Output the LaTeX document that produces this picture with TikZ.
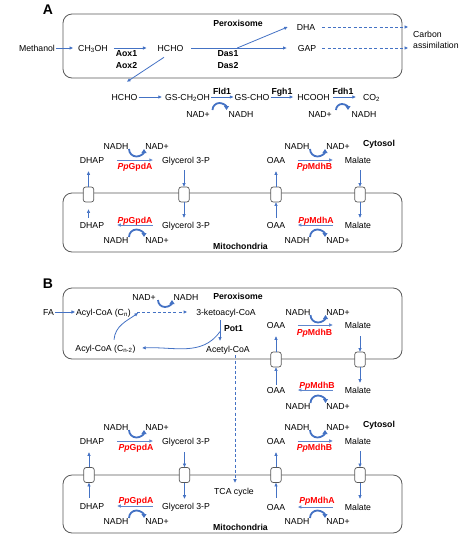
\documentclass[tikz,border=0pt]{standalone}
\usepackage{fontspec}
\setmainfont{Liberation Sans}
\usetikzlibrary{positioning, arrows.meta, calc}

\definecolor{flowblue}{RGB}{68,114,196}
\definecolor{boxgray}{RGB}{89,89,89}
\definecolor{enzred}{RGB}{255,0,0}

\begin{document}
\begin{tikzpicture}[
    x=1pt, y=1pt,
    >={Triangle[length=3.5pt, width=3pt]},
    lbl/.style={inner sep=1pt, font=\fontsize{8.7}{10.4}\selectfont},
    txt/.style={lbl, text height=6.2pt, text depth=0pt},
    enz/.style={txt, font=\fontsize{8.7}{10.4}\selectfont\bfseries},
    enzpair/.style={lbl, align=center, font=\fontsize{8.7}{12}\selectfont\bfseries},
    ppenz/.style={enz, text=enzred},
    site/.style={enz},
    panel/.style={inner sep=0pt, font=\fontsize{14}{16}\selectfont\bfseries},
    organelle/.style={draw=boxgray, line width=0.8pt, rounded corners=9pt},
    carrier/.style={draw=boxgray, line width=0.7pt, fill=white, rounded corners=2.5pt,
        minimum width=10.5pt, minimum height=15pt, inner sep=0pt},
    rxn/.style={->, draw=flowblue, line width=0.8pt},
    drxn/.style={rxn, line width=0.9pt, dash pattern=on 3pt off 2.2pt},
    shuttle/.style={->, draw=flowblue!85, line width=1pt},
    tport/.style={->, draw=flowblue, line width=0.6pt},
    cofac/.style={-{Triangle[length=4pt, width=5pt]}, draw=flowblue, line width=1.8pt},
]
\useasboundingbox (0,0) rectangle (471,-550);

% ============ COMPARTMENTS ============
\draw[organelle] (63,-14)  rectangle (402,-78);   % peroxisome A
\draw[organelle] (63,-193) rectangle (402,-252);  % mitochondria A
\draw[organelle] (63,-288) rectangle (402,-359);  % peroxisome B
\draw[organelle] (63,-475) rectangle (402,-533);  % mitochondria B

% ============ PANEL A : NODES ============
\node[panel] (labA) at (48,-10) {A};
\node[site]  (perA) at (238,-23) {Peroxisome};

% methanol utilisation (peroxisome)
\node[txt] (meoh)  at (37,-48)    {Methanol};
\node[txt] (ch3oh) at (93,-48)    {CH\textsubscript{3}OH};
\node[txt] (hchoA) at (170.5,-48) {HCHO};
\node[txt] (dha)   at (306,-27)   {DHA};
\node[txt] (gap)   at (307,-48)   {GAP};
\node[lbl, align=left, anchor=west, font=\fontsize{8.7}{11}\selectfont] (carbon) at (412,-39.5) {Carbon\\assimilation};
\node[enzpair] (aox) at (126.5,-60) {Aox1\\Aox2};
\node[enzpair] (das) at (228,-60)   {Das1\\Das2};

% dissimilation (cytosol)
\node[txt] (hchoB)   at (124.5,-97) {HCHO};
\node[txt] (gsch2oh) at (187.5,-97) {GS-CH\textsubscript{2}OH};
\node[txt] (gscho)   at (252,-97)   {GS-CHO};
\node[txt] (hcooh)   at (313.5,-97) {HCOOH};
\node[txt] (co2)     at (371.5,-97) {CO\textsubscript{2}};
\node[enz] (fld1) at (222,-91) {Fld1};
\node[enz] (fgh1) at (282,-91) {Fgh1};
\node[enz] (fdh1) at (343,-91) {Fdh1};
\node[txt] (nadA1)  at (198,-114) {NAD+};
\node[txt] (nadhA1) at (241,-114) {NADH};
\node[txt] (nadA2)  at (320,-114) {NAD+};
\node[txt] (nadhA2) at (364,-114) {NADH};

% shuttles, cytosolic side
\node[txt]   (nadhA3) at (116,-146) {NADH};
\node[txt]   (nadA3)  at (157,-146) {NAD+};
\node[txt]   (dhapA1) at (92,-160)  {DHAP};
\node[txt]   (g3pA1)  at (186,-160) {Glycerol 3-P};
\node[ppenz] (gpdA1)  at (135,-166) {\textit{Pp}GpdA};
\node[txt]   (nadhA5) at (297,-146) {NADH};
\node[txt]   (nadA5)  at (338,-146) {NAD+};
\node[txt]   (oaaA1)  at (276,-160) {OAA};
\node[txt]   (malA1)  at (358,-160) {Malate};
\node[ppenz] (mdhA1)  at (314.5,-166) {\textit{Pp}MdhB};
\node[site]  (cytA)   at (379,-143) {Cytosol};

% shuttles, mitochondrial side
\node[txt]   (dhapA2) at (92,-225)  {DHAP};
\node[txt]   (g3pA2)  at (186,-225) {Glycerol 3-P};
\node[ppenz] (gpdA2)  at (135,-220) {\textit{Pp}GpdA};
\node[txt]   (nadhA4) at (116,-240) {NADH};
\node[txt]   (nadA4)  at (157,-240) {NAD+};
\node[txt]   (oaaA2)  at (276,-225) {OAA};
\node[txt]   (malA2)  at (358,-225) {Malate};
\node[ppenz] (mdhA2)  at (316,-220) {\textit{Pp}MdhA};
\node[txt]   (nadhA6) at (297,-240) {NADH};
\node[txt]   (nadA6)  at (338,-240) {NAD+};
\node[site]  (mitA)   at (240.5,-246) {Mitochondria};

% ============ PANEL B : NODES ============
\node[panel] (labB) at (48,-284) {B};
\node[site]  (perB) at (238,-296) {Peroxisome};

% beta-oxidation
\node[txt] (fa)     at (48.5,-312)  {FA};
\node[txt] (acyl)   at (103.5,-312) {Acyl-CoA (C\textsubscript{n})};
\node[txt] (keto)   at (226,-312)   {3-ketoacyl-CoA};
\node[txt] (nadB1)  at (144,-297)   {NAD+};
\node[txt] (nadhB1) at (186,-297)   {NADH};
\node[enz] (pot1)   at (233.5,-328) {Pot1};
\node[txt] (acylm2) at (105.5,-348) {Acyl-CoA (C\textsubscript{n-2})};
\node[txt] (acetyl) at (228,-349)   {Acetyl-CoA};
\node[txt] (tca)    at (234,-491)   {TCA cycle};

% malate shuttle, peroxisome -> cytosol
\node[txt]   (nadhB2) at (298,-312) {NADH};
\node[txt]   (nadB2)  at (338,-312) {NAD+};
\node[txt]   (oaaB1)  at (276,-325) {OAA};
\node[txt]   (malB1)  at (358,-325) {Malate};
\node[ppenz] (mdhB1)  at (314.5,-332) {\textit{Pp}MdhB};
\node[txt]   (oaaB2)  at (276,-390) {OAA};
\node[txt]   (malB2)  at (358,-390) {Malate};
\node[ppenz] (mdhB2)  at (317,-385) {\textit{Pp}MdhB};
\node[txt]   (nadhB3) at (298,-406) {NADH};
\node[txt]   (nadB3)  at (338,-406) {NAD+};

% shuttles, cytosol -> mitochondria
\node[txt]   (nadhB4) at (297,-427) {NADH};
\node[txt]   (nadB4)  at (338,-427) {NAD+};
\node[site]  (cytB)   at (379,-424) {Cytosol};
\node[txt]   (oaaB3)  at (276,-441) {OAA};
\node[txt]   (malB3)  at (358,-441) {Malate};
\node[ppenz] (mdhB3)  at (314.5,-447) {\textit{Pp}MdhB};
\node[txt]   (oaaB4)  at (276,-507) {OAA};
\node[txt]   (malB4)  at (358,-507) {Malate};
\node[ppenz] (mdhB4)  at (317,-500) {\textit{Pp}MdhA};
\node[txt]   (nadhB5) at (297,-521) {NADH};
\node[txt]   (nadB5)  at (338,-521) {NAD+};
\node[site]  (mitB)   at (240.5,-527) {Mitochondria};

\node[txt]   (nadhB6) at (116,-427) {NADH};
\node[txt]   (nadB6)  at (157,-427) {NAD+};
\node[txt]   (dhapB1) at (92,-441)  {DHAP};
\node[txt]   (g3pB1)  at (186,-441) {Glycerol 3-P};
\node[ppenz] (gpdB1)  at (136,-447) {\textit{Pp}GpdA};
\node[txt]   (dhapB2) at (92,-506)  {DHAP};
\node[txt]   (g3pB2)  at (186,-506) {Glycerol 3-P};
\node[ppenz] (gpdB2)  at (136,-500) {\textit{Pp}GpdA};
\node[txt]   (nadhB7) at (116,-521) {NADH};
\node[txt]   (nadB7)  at (157,-521) {NAD+};

% ============ PANEL A : ARROWS ============
\draw[rxn] (meoh.east) -- ([xshift=-4pt]ch3oh.west);
\draw[rxn] ([xshift=5pt]ch3oh.east) -- ([xshift=-10pt]hchoA.west);
\draw[rxn] ([xshift=6.5pt]hchoA.east) -- ([xshift=-10pt]gap.west);
\draw[rxn] ($(hchoA.east)!0.47!(gap.west)$) -- ([xshift=-8pt]dha.west);
\draw[drxn] ([xshift=6pt]dha.east) -- ($(dha.east -| carbon.west)+(-4,0)$);
\draw[drxn] ([xshift=5pt]gap.east) -- ($(gap.east -| carbon.west)+(-4,0)$);

% HCHO leaves the peroxisome
\draw[rxn] ([shift={(-6.5,-5)}]hchoA.south) -- ([shift={(2.5,11)}]hchoB.north);
\draw[rxn, shorten >=2pt] (hchoB) -- (gsch2oh);
\draw[rxn] (gsch2oh) -- (gscho);
\draw[rxn, shorten >=3pt] (gscho) -- (hcooh);
\draw[rxn, shorten <=2pt, shorten >=6pt] (hcooh) -- (co2);

% cofactors
\draw[cofac] ($(nadA1)!0.5!(nadhA1)+(-7,4)$) arc[start angle=180, end angle=0, radius=7pt];
\draw[cofac] ($(nadA2)!0.5!(nadhA2)+(-6,4)$) arc[start angle=180, end angle=0, radius=6pt];
\draw[cofac] ($(nadhA3)!0.5!(nadA3)+(-7.5,-3)$) arc[start angle=180, end angle=360, radius=7.5pt];
\draw[cofac] ($(nadhA5)!0.5!(nadA5)+(-7.5,-3)$) arc[start angle=180, end angle=360, radius=7.5pt];
\draw[cofac] ($(nadhA4)!0.5!(nadA4)+(-7.5,3)$) arc[start angle=180, end angle=0, radius=7.5pt];
\draw[cofac] ($(nadhA6)!0.5!(nadA6)+(-7.5,3)$) arc[start angle=180, end angle=0, radius=7.5pt];

% shuttle reactions
\draw[shuttle, shorten <=12pt, shorten >=8pt] (dhapA1) -- (g3pA1);
\draw[shuttle, shorten <=8pt, shorten >=12pt] (g3pA2) -- (dhapA2);
\draw[shuttle, shorten <=11.5pt, shorten >=11pt] (oaaA1) -- (malA1);
\draw[shuttle, shorten <=11pt, shorten >=11.5pt] (malA2) -- (oaaA2);

% ============ PANEL B : ARROWS ============
\draw[rxn] (fa) -- (acyl);
\draw[drxn, shorten <=5pt, shorten >=8pt] (acyl) -- (keto);
\draw[cofac] ($(nadB1)!0.5!(nadhB1)+(-7,-3)$) arc[start angle=180, end angle=360, radius=7pt];

\coordinate (thioA) at ([shift={(-6,-4)}]keto.south);
\coordinate (thioB) at ([shift={(-8,4)}]acetyl.north);
\draw[rxn] (thioA) -- (thioB);
\draw[rxn] ($(thioA)!0.55!(thioB)$) to[out=-125, in=3] ([xshift=5.5pt]acylm2.east);
\draw[rxn] ([shift={(8.5,4)}]acylm2.north) to[out=85, in=-145] ([shift={(6,-1)}]acyl.east);
\draw[drxn] ([shift={(7,-2)}]acetyl.south) -- ([shift={(1,4)}]tca.north);

% cofactors
\draw[cofac] ($(nadhB2)!0.5!(nadB2)+(-7.5,-3)$) arc[start angle=180, end angle=360, radius=7.5pt];
\draw[cofac] ($(nadhB3)!0.5!(nadB3)+(-7.5,3)$) arc[start angle=180, end angle=0, radius=7.5pt];
\draw[cofac] ($(nadhB4)!0.5!(nadB4)+(-7.5,-3)$) arc[start angle=180, end angle=360, radius=7.5pt];
\draw[cofac] ($(nadhB5)!0.5!(nadB5)+(-7.5,3)$) arc[start angle=180, end angle=0, radius=7.5pt];
\draw[cofac] ($(nadhB6)!0.5!(nadB6)+(-7.5,-3)$) arc[start angle=180, end angle=360, radius=7.5pt];
\draw[cofac] ($(nadhB7)!0.5!(nadB7)+(-7.5,3)$) arc[start angle=180, end angle=0, radius=7.5pt];

% shuttle reactions
\draw[shuttle, shorten <=11.5pt, shorten >=11pt] (oaaB1) -- (malB1);
\draw[shuttle, shorten <=11pt, shorten >=11.5pt] (malB2) -- (oaaB2);
\draw[shuttle, shorten <=11.5pt, shorten >=11pt] (oaaB3) -- (malB3);
\draw[shuttle, shorten <=11pt, shorten >=11.5pt] (malB4) -- (oaaB4);
\draw[shuttle, shorten <=12pt, shorten >=8pt] (dhapB1) -- (g3pB1);
\draw[shuttle, shorten <=8pt, shorten >=12pt] (g3pB2) -- (dhapB2);

% ============ CARRIERS ============
\node[carrier] (cA1) at (88.5,-194.5) {};
\node[carrier] (cA2) at (184,-194.5)  {};
\node[carrier] (cA3) at (276,-194.5)  {};
\node[carrier] (cA4) at (360,-194.5)  {};
\node[carrier] (cB1) at (276,-359.5)  {};
\node[carrier] (cB2) at (360,-359.5)  {};
\node[carrier] (cB3) at (276,-475)    {};
\node[carrier] (cB4) at (360,-475)    {};
\node[carrier] (cB5) at (89,-475)     {};
\node[carrier] (cB6) at (184.5,-475)  {};

% transport through the carriers
\draw[tport, shorten <=3pt, shorten >=7pt] (dhapA2.north -| cA1) -- (cA1.south);
\draw[tport, shorten >=7pt] (cA1.north) -- (dhapA1.south -| cA1);
\draw[tport, shorten <=6pt] (g3pA1.south -| cA2) -- (cA2.north);
\draw[tport, shorten >=3pt] (cA2.south) -- (g3pA2.north -| cA2);
\draw[tport, shorten <=3pt] (oaaA2.north -| cA3) -- (cA3.south);
\draw[tport, shorten >=7pt] (cA3.north) -- (oaaA1.south -| cA3);
\draw[tport, shorten <=6pt] (malA1.south -| cA4) -- (cA4.north);
\draw[tport, shorten >=3pt] (cA4.south) -- (malA2.north -| cA4);

\draw[tport, shorten <=1pt] (oaaB2.north -| cB1) -- (cB1.south);
\draw[tport, shorten >=7pt] (cB1.north) -- (oaaB1.south -| cB1);
\draw[tport, shorten <=7pt] (malB1.south -| cB2) -- (cB2.north);
\draw[tport, shorten >=3pt] (cB2.south) -- (malB2.north -| cB2);
\draw[tport, shorten <=5pt] (oaaB4.north -| cB3) -- (cB3.south);
\draw[tport, shorten >=7pt] (cB3.north) -- (oaaB3.south -| cB3);
\draw[tport, shorten <=6pt] (malB3.south -| cB4) -- (cB4.north);
\draw[tport, shorten >=4pt] (cB4.south) -- (malB4.north -| cB4);
\draw[tport, shorten <=4pt] (dhapB2.north -| cB5) -- (cB5.south);
\draw[tport, shorten >=7pt] (cB5.north) -- (dhapB1.south -| cB5);
\draw[tport, shorten <=7pt] (g3pB1.south -| cB6) -- (cB6.north);
\draw[tport, shorten >=3pt] (cB6.south) -- (g3pB2.north -| cB6);

\end{tikzpicture}
\end{document}
